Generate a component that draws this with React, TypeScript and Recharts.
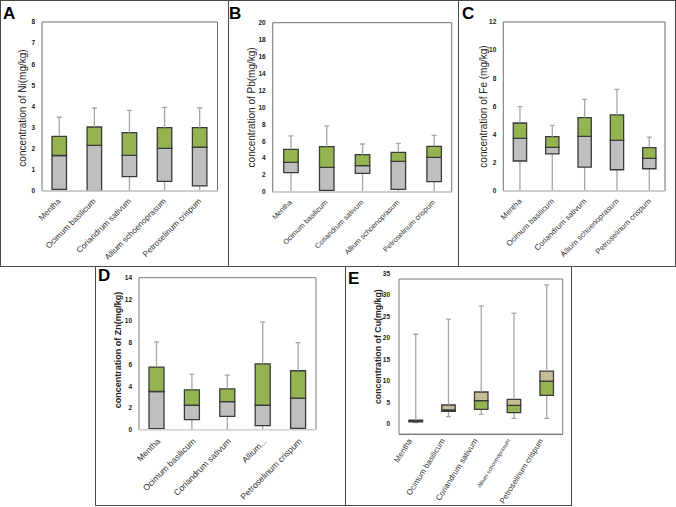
import React from "react";
import { ComposedChart, Bar, XAxis, YAxis, ReferenceArea } from "recharts";

// categories
const plants = ["Mentha", "Ocimum basilicum", "Coriandrum sativum", "Allium schoenoprasum", "Petroselinum crispum"];
const plantsZn = ["Mentha", "Ocimum basilicum", "Coriandrum sativum", "Allium...", "Petroselinum crispum"];

// A - Ni
const niTicks = [0, 1, 2, 3, 4, 5, 6, 7, 8];
const niMin = [0, 0, 0, 0, 0];
const niQ1 = [0.08, 0, 0.68, 0.46, 0.24];
const niMedian = [1.68, 2.16, 1.69, 2.02, 2.07];
const niQ3 = [2.59, 3.03, 2.76, 3.0, 3.0];
const niMax = [3.49, 3.93, 3.82, 3.96, 3.94];

// B - Pb
const pbTicks = [0, 2, 4, 6, 8, 10, 12, 14, 16, 18, 20];
const pbMin = [0, 0, 0, 0, 0];
const pbQ1 = [2.28, 0.2, 2.2, 0.31, 1.22];
const pbMedian = [3.5, 2.92, 3.11, 3.62, 4.1];
const pbQ3 = [5.04, 5.35, 4.41, 4.69, 5.4];
const pbMax = [6.62, 7.8, 5.67, 5.75, 6.7];

// C - Fe
const feTicks = [0, 2, 4, 6, 8, 10, 12];
const feMin = [0, 0, 0, 0, 0];
const feQ1 = [2.13, 2.63, 1.7, 1.51, 1.58];
const feMedian = [3.74, 3.1, 3.88, 3.6, 2.32];
const feQ3 = [4.83, 3.86, 5.21, 5.4, 3.08];
const feMax = [5.99, 4.66, 6.51, 7.22, 3.83];

// D - Zn
const znTicks = [0, 2, 4, 6, 8, 10, 12, 14];
const znMin = [0, 0, 0, 0, 0];
const znQ1 = [0.09, 0.93, 1.23, 0.37, 0.12];
const znMedian = [3.52, 2.25, 2.59, 2.25, 2.9];
const znQ3 = [5.77, 3.67, 3.76, 6.07, 5.43];
const znMax = [8.08, 5.12, 5.03, 9.93, 8.02];

// E - Cu
const cuTicks = [0, 5, 10, 15, 20, 25, 30, 35];
const cuMin = [0.3, 1.7, 2.25, 1.32, 1.32];
const cuQ1 = [0.5, 2.95, 3.41, 2.64, 6.67];
const cuMedian = [0.7, 3.26, 5.43, 4.34, 10.0];
const cuQ3 = [0.9, 4.42, 7.45, 5.74, 12.3];
const cuMax = [20.9, 24.4, 27.5, 25.8, 32.4];

const FONT = "'Liberation Sans', Arial, sans-serif";
const GREEN = "#93b451";
const GRAY = "#bfbfbf";
const TAN = "#c6bd98";
const BOX_EDGE = "#3a3a3a";
const WHISKER = "#a6a6a6";

const buildRows = (names: string[], min: number[], q1: number[], med: number[], q3: number[], max: number[]) =>
  names.map((name, i) => ({
    name,
    base: min[i],
    lowW: q1[i] - min[i],
    lower: med[i] - q1[i],
    upper: q3[i] - med[i],
    highW: max[i] - q3[i],
  }));

const whisker = (end: "top" | "bottom") => (p: any) => {
  const { x, y, width, height } = p;
  if (x == null || y == null || isNaN(y)) return <g />;
  const cx = x + width / 2;
  const cy = end === "top" ? y : y + height;
  return (
    <g>
      <line x1={cx} x2={cx} y1={y} y2={y + height} stroke={WHISKER} strokeWidth={1.3} />
      <line x1={cx - 2.5} x2={cx + 2.5} y1={cy} y2={cy} stroke={WHISKER} strokeWidth={1.3} />
    </g>
  );
};

const SlantTick = (props: any) => {
  const { x, y, payload, index, angle, dx, dy, sizes } = props;
  const ax = x + dx;
  const ay = y + dy;
  return (
    <text
      x={ax}
      y={ay}
      transform={`rotate(${angle} ${ax} ${ay})`}
      textAnchor="end"
      dominantBaseline="central"
      fontSize={sizes[index]}
      fontFamily={FONT}
      fill="#333"
    >
      {payload.value}
    </text>
  );
};

const YTitle = (props: any) => {
  const { viewBox, text, dx, dy, size, bold } = props;
  const cx = viewBox.x + viewBox.width + dx;
  const cy = viewBox.y + viewBox.height / 2 + dy;
  return (
    <text
      x={cx}
      y={cy}
      transform={`rotate(-90 ${cx} ${cy})`}
      textAnchor="middle"
      dominantBaseline="central"
      fontSize={size}
      fontWeight={bold ? "bold" : "normal"}
      fontFamily={FONT}
      fill="#262626"
    >
      {text}
    </text>
  );
};

type Cfg = {
  letter: string;
  left: number;
  top: number;
  width: number;
  height: number;
  margin: { top: number; right: number; left: number; bottom: number };
  xHeight: number;
  yMin: number;
  yMax: number;
  tickGap: number;
  title: string;
  titleSize: number;
  titleBold: boolean;
  titleDx: number;
  titleDy: number;
  barSize: number;
  lowerFill: string;
  upperFill: string;
  angle: number;
  labelDx: number;
  labelDy: number;
  labelSizes: number[];
  frameColor: string;
  axisColor: string;
};

const Panel = ({ cfg, rows, ticks }: { cfg: Cfg; rows: any[]; ticks: number[] }) => (
  <div style={{ position: "absolute", left: cfg.left, top: cfg.top }}>
    <ComposedChart width={cfg.width} height={cfg.height} data={rows} margin={cfg.margin}>
      <ReferenceArea y1={cfg.yMin} y2={cfg.yMax} fill="none" fillOpacity={0} stroke={cfg.frameColor} strokeWidth={1} />
      <XAxis
        dataKey="name"
        interval={0}
        height={cfg.xHeight}
        tickLine={false}
        tickSize={0}
        tickMargin={0}
        axisLine={{ stroke: cfg.axisColor, strokeWidth: 1.3 }}
        tick={<SlantTick angle={cfg.angle} dx={cfg.labelDx} dy={cfg.labelDy} sizes={cfg.labelSizes} />}
      />
      <YAxis
        type="number"
        domain={[cfg.yMin, cfg.yMax]}
        allowDataOverflow
        ticks={ticks}
        interval={0}
        width={20}
        axisLine={false}
        tickLine={false}
        tickSize={5}
        tickMargin={cfg.tickGap}
        tick={{ fontSize: 6.5, fontWeight: "bold", fill: "#222", fontFamily: FONT }}
        label={<YTitle text={cfg.title} dx={cfg.titleDx} dy={cfg.titleDy} size={cfg.titleSize} bold={cfg.titleBold} />}
      />
      <Bar dataKey="base" stackId="box" barSize={cfg.barSize} fill="none" isAnimationActive={false} />
      <Bar dataKey="lowW" stackId="box" barSize={cfg.barSize} shape={whisker("bottom")} isAnimationActive={false} />
      <Bar dataKey="lower" stackId="box" barSize={cfg.barSize} fill={cfg.lowerFill} stroke={BOX_EDGE} strokeWidth={1.3} isAnimationActive={false} />
      <Bar dataKey="upper" stackId="box" barSize={cfg.barSize} fill={cfg.upperFill} stroke={BOX_EDGE} strokeWidth={1.3} isAnimationActive={false} />
      <Bar dataKey="highW" stackId="box" barSize={cfg.barSize} shape={whisker("top")} isAnimationActive={false} />
    </ComposedChart>
  </div>
);

const cfgA: Cfg = {
  letter: "A", left: 0, top: 0, width: 228, height: 266,
  margin: { top: 22, right: 10.5, left: 22, bottom: 0 }, xHeight: 75,
  yMin: 0, yMax: 8, tickGap: 2,
  title: "concentration of Ni(mg/kg)", titleSize: 10, titleBold: false, titleDx: -19.3, titleDy: 1.5,
  barSize: 14.5, lowerFill: GRAY, upperFill: GREEN,
  angle: -45, labelDx: 0, labelDy: 9, labelSizes: [8.2, 8.2, 8.2, 8.2, 8.2],
  frameColor: "#6f6f6f", axisColor: "#d4d4d4",
};
const cfgB: Cfg = {
  ...cfgA, letter: "B", left: 228, width: 230,
  margin: { top: 22.7, right: 6.3, left: 24.7, bottom: 0 }, xHeight: 74,
  yMax: 20, title: "concentration of Pb(mg/kg)", titleDx: -21, titleDy: 0,
  labelSizes: [7.3, 7.3, 7.3, 7.3, 7.3],
};
const cfgC: Cfg = {
  ...cfgA, letter: "C", left: 458, width: 218,
  margin: { top: 22, right: 11, left: 25.3, bottom: 0 }, xHeight: 75,
  yMax: 12, title: "concentration of Fe (mg/kg)", titleDx: -20.3, titleDy: 0,
  barSize: 13.3, labelDx: 1, labelSizes: [7.8, 7.8, 7.8, 7.8, 7.8],
};
const cfgD: Cfg = {
  ...cfgA, letter: "D", left: 95, top: 266, width: 250, height: 239,
  margin: { top: 11.7, right: 29, left: 24, bottom: 0 }, xHeight: 75.3,
  yMax: 14, title: "concentration of Zn(mg/kg)", titleSize: 9, titleBold: true, titleDx: -21.3, titleDy: -3.7,
  barSize: 15, labelDx: 2, labelDy: 10, labelSizes: [8.6, 8.6, 8.6, 8.6, 8.6],
  frameColor: "#7a7a7a",
};
const cfgE: Cfg = {
  ...cfgA, letter: "E", left: 345, top: 266, width: 226, height: 239,
  margin: { top: 13, right: 8.3, left: 34, bottom: 0 }, xHeight: 70.7,
  yMin: -2.4, yMax: 33.76, tickGap: 4,
  title: "concentration of Cu(mg/kg)", titleSize: 8.8, titleBold: true, titleDx: -21, titleDy: -10,
  barSize: 13.5, lowerFill: GREEN, upperFill: TAN,
  angle: -58, labelDx: -5, labelDy: 5, labelSizes: [8, 8, 8, 5.6, 7.8],
  frameColor: "#7a7a7a", axisColor: "#7a7a7a",
};

const frames = [
  { l: 0, t: 0, w: 229, h: 267 },
  { l: 227.5, t: 0, w: 231, h: 267 },
  { l: 457.5, t: 0, w: 218.5, h: 267 },
  { l: 94.5, t: 265.5, w: 251, h: 240 },
  { l: 344.5, t: 265.5, w: 227, h: 240 },
];

const letters = [
  { c: "A", l: 3, t: 5 },
  { c: "B", l: 229, t: 5 },
  { c: "C", l: 462, t: 5 },
  { c: "D", l: 98, t: 267 },
  { c: "E", l: 348, t: 270 },
];

export default function App() {
  return (
    <div style={{ position: "absolute", left: 0, top: 0, width: 676, height: 507, background: "#fff", fontFamily: FONT }}>
      {frames.map((f, i) => (
        <div
          key={i}
          style={{
            position: "absolute", left: f.l, top: f.t, width: f.w, height: f.h,
            border: "1.5px solid #4a4a4a", boxSizing: "border-box",
          }}
        />
      ))}
      <Panel cfg={cfgA} rows={buildRows(plants, niMin, niQ1, niMedian, niQ3, niMax)} ticks={niTicks} />
      <Panel cfg={cfgB} rows={buildRows(plants, pbMin, pbQ1, pbMedian, pbQ3, pbMax)} ticks={pbTicks} />
      <Panel cfg={cfgC} rows={buildRows(plants, feMin, feQ1, feMedian, feQ3, feMax)} ticks={feTicks} />
      <Panel cfg={cfgD} rows={buildRows(plantsZn, znMin, znQ1, znMedian, znQ3, znMax)} ticks={znTicks} />
      <Panel cfg={cfgE} rows={buildRows(plants, cuMin, cuQ1, cuMedian, cuQ3, cuMax)} ticks={cuTicks} />
      {letters.map((d) => (
        <div
          key={d.c}
          style={{ position: "absolute", left: d.l, top: d.t, fontSize: 17, fontWeight: "bold", lineHeight: 1, color: "#000" }}
        >
          {d.c}
        </div>
      ))}
    </div>
  );
}
